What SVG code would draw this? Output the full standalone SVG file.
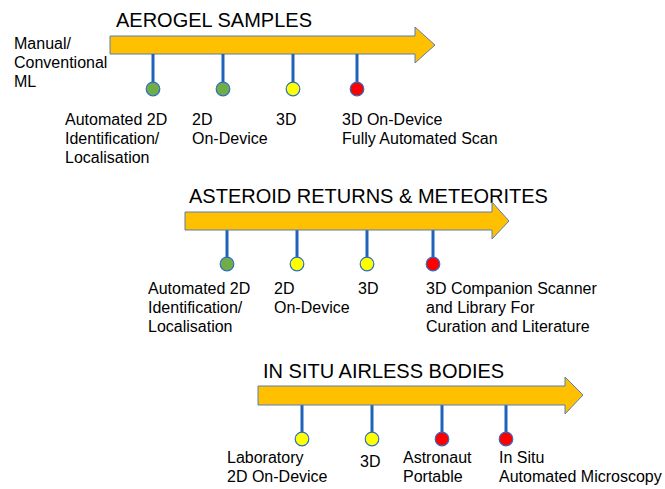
<svg xmlns="http://www.w3.org/2000/svg" width="665" height="489" viewBox="0 0 665 489">
<style>
text{font-family:"Liberation Sans",Arial,sans-serif;fill:#000}
.t{font-size:20px}
.l{font-size:16px}
.arrow{fill:#FFC000;stroke:#5B7BB5;stroke-width:1}
.stem{stroke:#1F63B8;stroke-width:3}
.dot{stroke:#2E6DC0;stroke-width:1.2}
.g{fill:#70AD47}.y{fill:#FFFF00}.r{fill:#FF0000}
</style>
<rect width="665" height="489" fill="#fff"/>
<g id="row1">
<text class="t" x="116" y="27">AEROGEL SAMPLES</text>
<polygon class="arrow" points="110,36 415,36 415,27 435,45 415,63 415,54 110,54"/>
<text class="l" x="14" y="49">Manual/</text>
<text class="l" x="14" y="68">Conventional</text>
<text class="l" x="14" y="87">ML</text>
</g>
<g id="connectors">
<line class="stem" x1="153" y1="54" x2="153" y2="83"/>
<line class="stem" x1="223" y1="54" x2="223" y2="83"/>
<line class="stem" x1="293" y1="54" x2="293" y2="83"/>
<line class="stem" x1="357" y1="54" x2="357" y2="83"/>
<line class="stem" x1="227" y1="230" x2="227" y2="258"/>
<line class="stem" x1="297" y1="230" x2="297" y2="258"/>
<line class="stem" x1="367" y1="230" x2="367" y2="258"/>
<line class="stem" x1="433" y1="230" x2="433" y2="258"/>
<line class="stem" x1="302" y1="405" x2="302" y2="433"/>
<line class="stem" x1="372" y1="405" x2="372" y2="433"/>
<line class="stem" x1="442" y1="405" x2="442" y2="433"/>
<line class="stem" x1="506" y1="405" x2="506" y2="433"/>
</g>
<g id="n1a"><circle class="dot g" cx="153" cy="89" r="6.8"/>
<text class="l" x="65" y="125">Automated 2D</text><text class="l" x="65" y="144">Identification/</text><text class="l" x="65" y="163">Localisation</text></g>
<g id="n1b"><circle class="dot g" cx="223" cy="89" r="6.8"/>
<text class="l" x="192" y="125">2D</text><text class="l" x="192" y="144">On-Device</text></g>
<g id="n1c"><circle class="dot y" cx="293" cy="89" r="6.8"/>
<text class="l" x="276" y="125">3D</text></g>
<g id="n1d"><circle class="dot r" cx="357" cy="89" r="6.8"/>
<text class="l" x="342" y="125">3D On-Device</text><text class="l" x="342" y="144">Fully Automated Scan</text></g>
<g id="row2">
<text class="t" x="189" y="203">ASTEROID RETURNS &amp; METEORITES</text>
<polygon class="arrow" points="185,212 492,212 492,202 509,221 492,239 492,230 185,230"/>
</g>
<g id="n2a"><circle class="dot g" cx="227" cy="264" r="6.8"/>
<text class="l" x="148" y="294">Automated 2D</text><text class="l" x="148" y="313">Identification/</text><text class="l" x="148" y="332">Localisation</text></g>
<g id="n2b"><circle class="dot y" cx="297" cy="264" r="6.8"/>
<text class="l" x="274" y="294">2D</text><text class="l" x="274" y="313">On-Device</text></g>
<g id="n2c"><circle class="dot y" cx="367" cy="264" r="6.8"/>
<text class="l" x="358" y="294">3D</text></g>
<g id="n2d"><circle class="dot r" cx="433" cy="264" r="6.8"/>
<text class="l" x="426" y="294">3D Companion Scanner</text><text class="l" x="426" y="313">and Library For</text><text class="l" x="426" y="332">Curation and Literature</text></g>
<g id="row3">
<text class="t" x="263" y="378">IN SITU AIRLESS BODIES</text>
<polygon class="arrow" points="258,386 565,386 565,377 583,395 565,414 565,405 258,405"/>
</g>
<g id="n3a"><circle class="dot y" cx="302" cy="439" r="6.8"/>
<text class="l" x="227" y="463">Laboratory</text><text class="l" x="227" y="482">2D On-Device</text></g>
<g id="n3b"><circle class="dot y" cx="372" cy="439" r="6.8"/>
<text class="l" x="360" y="467">3D</text></g>
<g id="n3c"><circle class="dot r" cx="442" cy="439" r="6.8"/>
<text class="l" x="403" y="463">Astronaut</text><text class="l" x="403" y="482">Portable</text></g>
<g id="n3d"><circle class="dot r" cx="506" cy="439" r="6.8"/>
<text class="l" x="499" y="463">In Situ</text><text class="l" x="499" y="482">Automated Microscopy</text></g>
</svg>
